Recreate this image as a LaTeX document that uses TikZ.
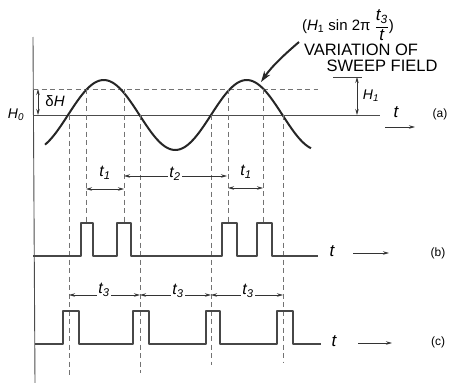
\documentclass[tikz,border=0pt]{standalone}
\usepackage{fontspec}
\setmainfont{Liberation Sans}
\usetikzlibrary{arrows.meta}
\begin{document}
\begin{tikzpicture}[x=1pt,y=-1pt,
  ax/.style={line width=0.9pt, draw=black!70},
  dsh/.style={line width=0.9pt, draw=black!55, dash pattern=on 5pt off 3.5pt},
  wave/.style={line width=2pt, draw=black!85},
  pulse/.style={line width=1.3pt, draw=black!72, line join=round},
  dimtip/.style={line width=0.8pt, draw=black!80, -{Stealth[length=6pt,width=3.5pt]}},
  dimboth/.style={line width=0.8pt, draw=black!80, {Stealth[length=6pt,width=3.5pt]}-{Stealth[length=6pt,width=3.5pt]}},
  tlab/.style={inner sep=1pt, font=\fontsize{17}{18}\selectfont\itshape},
  slab/.style={inner sep=1pt, fill=white, font=\fontsize{16}{18}\selectfont\itshape},
  captext/.style={inner sep=0pt, font=\fontsize{16.5}{17}\selectfont},
  plab/.style={inner sep=0pt, font=\fontsize{12}{14}\selectfont},
  hlab/.style={inner sep=0pt, font=\fontsize{14}{15}\selectfont\itshape},
]
\useasboundingbox (0,0) rectangle (451,383);

% axes and reference lines
\draw[ax] (33,37) -- (35,383);
\draw[ax] (33,115) -- (380,115);
\draw[dsh] (33,89) -- (318,89);

% sweep field wave
\draw[wave] plot[domain=45:311,samples=150,smooth] (\x,{115-35*sin(2.5175*(\x-68))});

% dashed verticals
\draw[dsh] (69,115) -- (69,377);
\draw[dsh] (86,89) -- (86,223);
\draw[dsh] (124,89) -- (124,223);
\draw[dsh] (140,115) -- (140,373);
\draw[dsh] (211,115) -- (211,365);
\draw[dsh] (228,89) -- (228,223);
\draw[dsh] (263,89) -- (263,223);
\draw[dsh] (283,115) -- (283,363);

% pulses (b)
\draw[pulse] (33,256) -- (81,256) -- (81,223) -- (93,223) -- (93,256)
  -- (117,256) -- (117,223) -- (131,223) -- (131,256)
  -- (222,256) -- (222,223) -- (237,223) -- (237,256)
  -- (257,256) -- (257,223) -- (272,223) -- (272,256) -- (318,256);

% pulses (c)
\draw[pulse] (35,344) -- (63,344) -- (63,311) -- (79,311) -- (79,344)
  -- (133,344) -- (133,311) -- (149,311) -- (149,344)
  -- (206,344) -- (206,311) -- (220,311) -- (220,344)
  -- (277,344) -- (277,311) -- (293,311) -- (293,344) -- (321,344);

% H0, delta H
\node[hlab] (h0) at (16,115) {H\textsubscript{0}};
\coordinate (dhT) at (38,89);
\coordinate (dhB) at (38,115);
\draw[dimboth] (dhT) -- (dhB);
\node[hlab, font=\fontsize{15}{16}\selectfont] (dh) at (55,101) {\upshape δ\itshape H};

% H1
\coordinate (h1L) at (333,77);
\coordinate (h1R) at (362,77);
\draw[line width=0.9pt, draw=black!75] (h1L) -- (h1R);
\coordinate (h1T) at (357,77);
\coordinate (h1B) at (357,115);
\draw[dimboth] (h1T) -- (h1B);
\node[hlab] (h1) at (371,96) {H\textsubscript{1}};

% (a) labels
\node[tlab] (ta) at (396,112) {t};
\coordinate (aa1) at (385,127);
\coordinate (aa2) at (415,127);
\draw[dimtip] (aa1) -- (aa2);
\node[plab] (la) at (440,114) {(a)};

% annotation
\node[captext, font=\fontsize{15}{16}\selectfont] (formula) at (348,25)
  {(\textit{H}\textsubscript{1} sin 2π $\displaystyle\frac{\mbox{\fontsize{17}{18}\selectfont\itshape t\textsubscript{3}}}{\mbox{\fontsize{17}{18}\selectfont\itshape t}}$)};
\node[captext] (var) at (361,50) {VARIATION OF};
\node[captext] (swp) at (382,66) {SWEEP FIELD};
\coordinate (arrS) at (299,42);
\coordinate (arrE) at (261,82);
\draw[line width=2pt, draw=black!85, -{Stealth[length=11pt,width=7pt]}] (arrS) .. controls (285,54) and (272,66) .. (arrE);

% t1, t2
\coordinate (t1a) at (86,189);
\coordinate (t1b) at (124,189);
\draw[dimboth] (t1a) -- (t1b);
\node[slab, fill=none] (t1l) at (105,173) {t\textsubscript{1}};
\coordinate (t2a) at (124,176);
\coordinate (t2b) at (227,176);
\draw[dimboth] (t2a) -- (t2b);
\node[slab] (t2l) at (175,174) {t\textsubscript{2}};
\coordinate (t1c) at (228,188);
\coordinate (t1d) at (263,188);
\draw[dimboth] (t1c) -- (t1d);
\node[slab, fill=none] (t1l2) at (246,172) {t\textsubscript{1}};

% (b) labels
\node[tlab] (tb) at (332,251) {t};
\coordinate (bb1) at (353,253);
\coordinate (bb2) at (389,253);
\draw[dimtip] (bb1) -- (bb2);
\node[plab] (lb) at (438,253) {(b)};

% t3
\coordinate (s0) at (69,295);
\coordinate (s1) at (140,295);
\coordinate (s2) at (211,295);
\coordinate (s3) at (283,295);
\draw[dimboth] (s0) -- (s1);
\draw[dimboth] (s1) -- (s2);
\draw[dimboth] (s2) -- (s3);
\node[slab] (t3l1) at (104,290) {t\textsubscript{3}};
\node[slab] (t3l2) at (178,291) {t\textsubscript{3}};
\node[slab] (t3l3) at (248,291) {t\textsubscript{3}};

% (c) labels
\node[tlab] (tc) at (334,341) {t};
\coordinate (cc1) at (358,343);
\coordinate (cc2) at (392,343);
\draw[dimtip] (cc1) -- (cc2);
\node[plab] (lc) at (438,342) {(c)};
\end{tikzpicture}
\end{document}
